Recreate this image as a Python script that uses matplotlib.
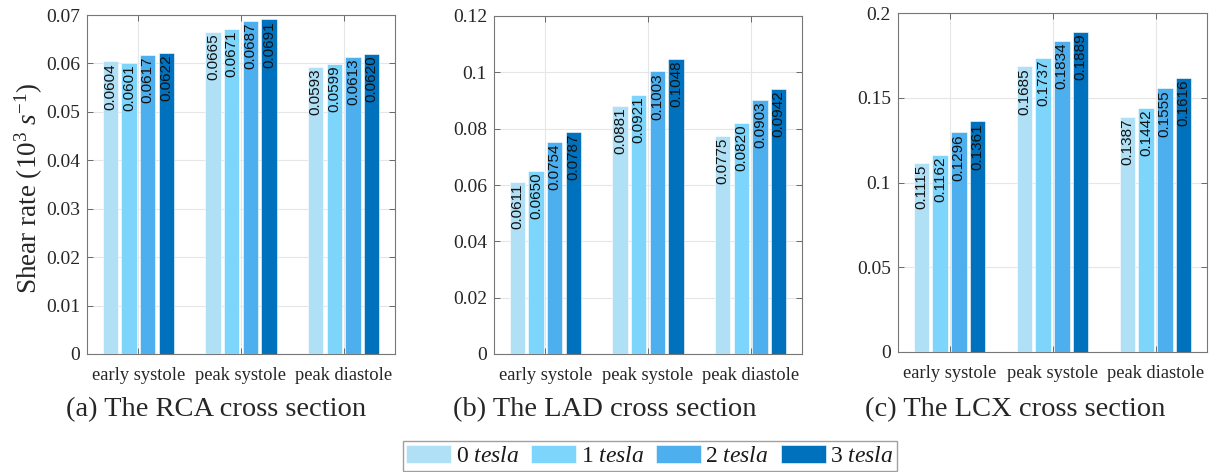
import matplotlib
matplotlib.use('Agg')
import matplotlib.pyplot as plt
import numpy as np
from matplotlib.ticker import FuncFormatter

plt.rcParams['font.family'] = 'Liberation Serif'
plt.rcParams['mathtext.fontset'] = 'custom'
plt.rcParams['mathtext.rm'] = 'Liberation Serif'
plt.rcParams['mathtext.it'] = 'Liberation Serif:italic'

phases = ['early systole', 'peak systole', 'peak diastole']
fields = ['0 $\\it{tesla}$', '1 $\\it{tesla}$', '2 $\\it{tesla}$', '3 $\\it{tesla}$']
colors = ['#B0E0F6', '#7DD5FB', '#4DAFEE', '#0072BD']

# rows = phase, columns = field strength
rca = [[0.0604, 0.0601, 0.0617, 0.0622],
       [0.0665, 0.0671, 0.0687, 0.0691],
       [0.0593, 0.0599, 0.0613, 0.0620]]
lad = [[0.0611, 0.0650, 0.0754, 0.0787],
       [0.0881, 0.0921, 0.1003, 0.1048],
       [0.0775, 0.0820, 0.0903, 0.0942]]
lcx = [[0.1115, 0.1162, 0.1296, 0.1361],
       [0.1685, 0.1737, 0.1834, 0.1889],
       [0.1387, 0.1442, 0.1555, 0.1616]]

captions = ['(a) The RCA cross section', '(b) The LAD cross section', '(c) The LCX cross section']
ylims = [0.07, 0.12, 0.2]
ysteps = [0.01, 0.02, 0.05]

W, H = 1215, 472
fig = plt.figure(figsize=(W / 100, H / 100), dpi=100)

# pixel boxes: left, right, top, bottom
boxes = [(87, 395, 15, 354), (494, 802, 16, 354), (898, 1207, 13, 352)]
cap_x = [216, 605, 1015]

offsets = np.array([-1.5, -0.5, 0.5, 1.5]) * 0.182
width = 0.15
x = np.arange(1, 4)

for i, data in enumerate([rca, lad, lcx]):
    l, r, t, b = boxes[i]
    ax = fig.add_axes([l / W, 1 - b / H, (r - l) / W, (b - t) / H])
    data = np.array(data)
    for j in range(4):
        bars = ax.bar(x + offsets[j], data[:, j], width, color=colors[j],
                      edgecolor='white', linewidth=0.4, label=fields[j], zorder=3)
        for rect, v in zip(bars, data[:, j]):
            ax.text(rect.get_x() + rect.get_width() / 2, v - ylims[i] * 0.005,
                    '%.4f' % v, rotation=90, ha='center', va='top',
                    fontsize=11, family='Liberation Sans', color='#111111', zorder=4)
    ax.set_xlim(0.5, 3.5)
    ax.set_ylim(0, ylims[i])
    ax.set_xticks(x)
    ax.set_xticklabels(phases, fontsize=13.3)
    ax.set_yticks(np.arange(0, ylims[i] + 1e-9, ysteps[i]))
    ax.yaxis.set_major_formatter(FuncFormatter(lambda v, p: '%g' % round(v, 4)))
    ax.grid(True, color='#e6e6e6', linewidth=0.8, zorder=0)
    ax.tick_params(direction='in', length=4, width=0.6, top=True, right=True,
                   labelcolor='#262626', color='#555555')
    ax.tick_params(axis='y', labelsize=14, pad=5)
    ax.tick_params(axis='x', pad=9)
    for s in ax.spines.values():
        s.set_color('#777777')
        s.set_linewidth(0.8)
    fig.text(cap_x[i] / W, 1 - 410 / H, captions[i], ha='center', va='center',
             fontsize=20.5, color='#262626')
    if i == 0:
        ax.set_ylabel('Shear rate (10$^3$ $s^{-1}$)', fontsize=19.5, color='#262626')
        ax.yaxis.set_label_coords(-0.135, 0.49)

handles, labels = ax.get_legend_handles_labels()
leg = fig.legend(handles, labels, loc='upper center', bbox_to_anchor=(650 / W, 1 - 441 / H),
                 ncol=4, fontsize=17, frameon=True, fancybox=False, edgecolor='#888888',
                 handlelength=1.9, handleheight=0.85, handletextpad=0.2, columnspacing=0.5,
                 borderpad=0.15, borderaxespad=0)
for txt in leg.get_texts():
    txt.set_color('#1a1a1a')

fig.savefig('out.png', dpi=100)
